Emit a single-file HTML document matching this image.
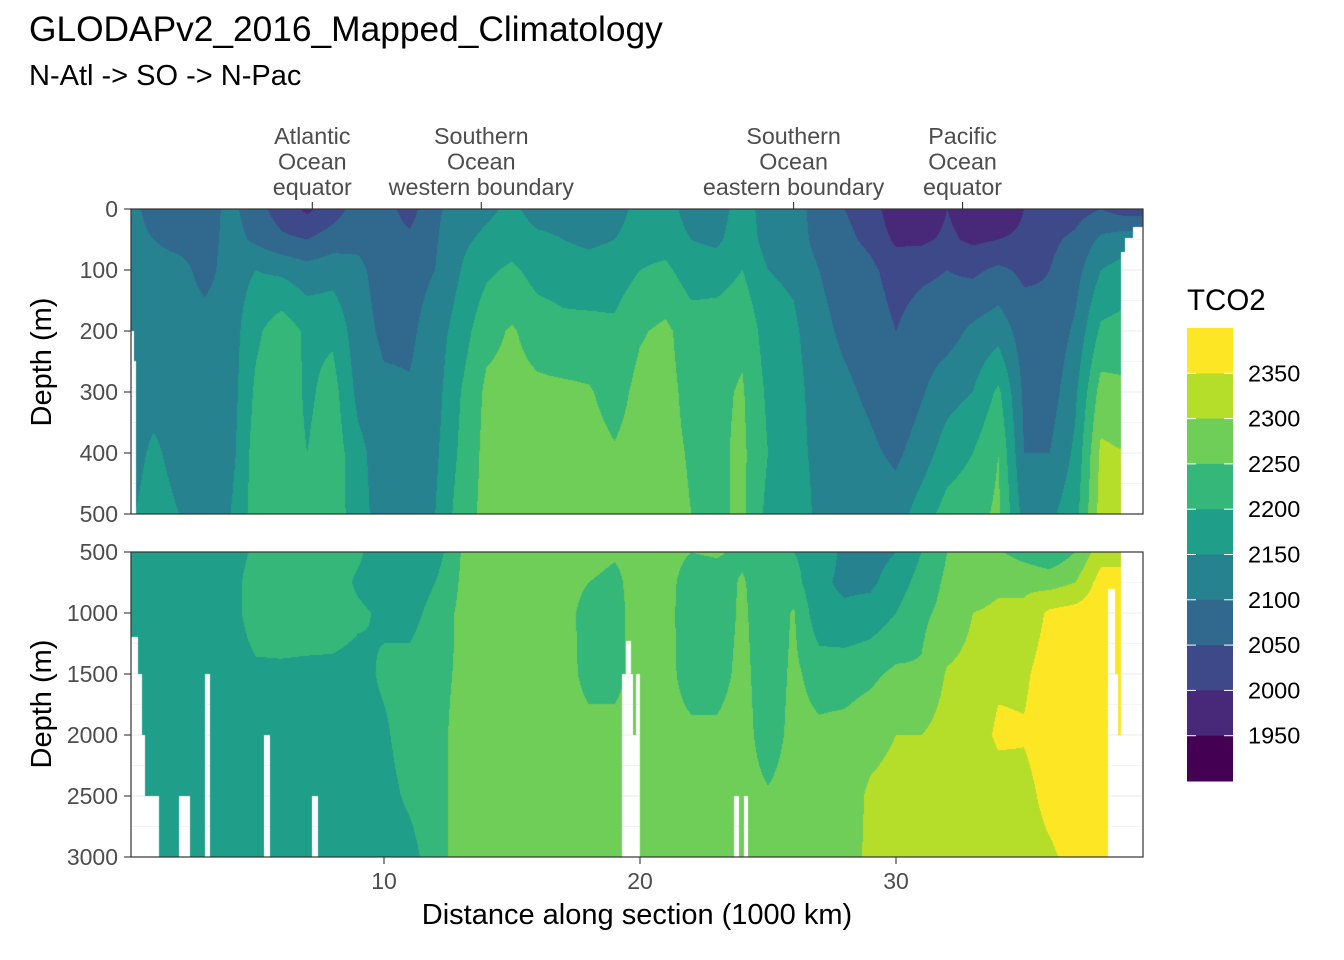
<!DOCTYPE html>
<html><head><meta charset="utf-8">
<style>
body{margin:0;background:#fff;width:1344px;height:960px;overflow:hidden;font-family:"Liberation Sans",sans-serif;position:relative}
canvas{position:absolute}
svg{position:absolute;left:0;top:0}
</style></head>
<body>
<svg id="bg" width="1344" height="960"></svg>
<canvas id="topc" width="1012" height="305" style="left:131px;top:209px"></canvas>
<canvas id="botc" width="1012" height="305" style="left:131px;top:552px"></canvas>
<svg id="fg" width="1344" height="960"></svg>
<script>
const distances=[0,1,2,3,4,5,6,7,8,9,10,11,12,13,14,15,16,17,18,19,20,21,22,23,24,25,26,27,28,29,30,31,32,33,34,35,36,37,38,39];
const topDepths=[0,50,100,200,300,400,500];
const bottomDepths=[500,750,1000,1500,2000,2500,3000];
const topTCO2=[
[2125,2125,2125,2125,2125,2125,2140],[2075,2100,2125,2125,2130,2160,2175],[2075,2080,2120,2125,2125,2130,2150],[2075,2075,2080,2125,2125,2125,2125],
[2115,2120,2125,2125,2125,2130,2150],[2070,2090,2150,2190,2210,2225,2225],[2025,2060,2140,2230,2240,2230,2230],[1990,2050,2120,2190,2190,2200,2225],
[2025,2075,2130,2190,2220,2230,2230],[2075,2090,2110,2120,2135,2165,2170],[2070,2075,2080,2090,2110,2120,2125],[2030,2060,2080,2090,2105,2125,2125],
[2090,2095,2100,2125,2130,2140,2150],[2125,2140,2150,2175,2200,2210,2225],[2140,2160,2190,2235,2260,2265,2265],[2160,2175,2210,2255,2265,2270,2270],
[2130,2160,2180,2230,2260,2270,2270],[2130,2150,2175,2215,2260,2270,2270],[2120,2140,2170,2215,2255,2270,2270],[2120,2150,2175,2210,2230,2255,2265],
[2175,2180,2200,2245,2265,2270,2270],[2175,2180,2210,2260,2265,2265,2270],[2125,2150,2175,2225,2235,2245,2250],[2125,2140,2175,2230,2240,2240,2240],
[2175,2180,2200,2240,2255,2260,2260],[2125,2130,2150,2175,2190,2200,2185],[2125,2130,2140,2160,2170,2175,2200],[2075,2080,2100,2115,2125,2130,2130],
[2050,2060,2075,2090,2110,2125,2130],[2030,2040,2060,2075,2090,2110,2125],[1960,1990,2030,2050,2060,2090,2125],[1960,1990,2040,2075,2095,2125,2175],
[2000,2010,2050,2080,2130,2175,2220],[1970,1990,2040,2110,2150,2200,2230],[1960,2000,2060,2130,2210,2250,2260],[2000,2010,2040,2075,2090,2100,2130],
[2025,2040,2050,2060,2075,2100,2140],[2030,2060,2080,2110,2140,2160,2180],[2050,2110,2150,2210,2270,2310,2320],[2025,2130,2170,2220,2260,2300,2320]];
const bottomTCO2=[
[2175,2175,2175,2175,2175,2175,2175],[2175,2175,2175,2175,2175,2175,2175],[2175,2175,2175,2175,2175,2175,2175],[2175,2175,2175,2175,2175,2175,2175],
[2175,2180,2180,2175,2175,2175,2175],[2210,2225,2225,2190,2180,2175,2175],[2225,2230,2230,2190,2175,2175,2175],[2225,2230,2235,2185,2175,2175,2175],
[2225,2230,2230,2185,2175,2175,2175],[2210,2190,2210,2180,2175,2175,2175],[2160,2170,2190,2210,2190,2180,2175],[2150,2165,2180,2220,2230,2210,2180],
[2175,2200,2220,2240,2240,2235,2230],[2250,2255,2260,2255,2260,2265,2270],[2270,2270,2270,2270,2270,2270,2270],[2270,2270,2270,2270,2270,2270,2270],
[2270,2270,2270,2270,2270,2270,2270],[2270,2270,2270,2270,2270,2270,2270],[2265,2250,2230,2235,2265,2270,2270],[2255,2240,2235,2235,2265,2270,2270],
[2260,2270,2270,2270,2270,2270,2270],[2265,2265,2265,2265,2265,2265,2265],[2250,2230,2225,2230,2260,2270,2270],[2255,2230,2220,2230,2260,2270,2270],
[2240,2255,2260,2265,2270,2270,2270],[2230,2220,2215,2220,2225,2255,2270],[2200,2220,2255,2260,2265,2270,2270],[2175,2160,2165,2230,2260,2270,2270],
[2140,2140,2160,2230,2265,2270,2280],[2130,2140,2170,2240,2280,2310,2310],[2150,2175,2200,2260,2300,2320,2320],[2200,2220,2240,2255,2300,2320,2320],
[2250,2260,2265,2305,2320,2320,2320],[2260,2270,2300,2315,2320,2320,2320],[2255,2290,2310,2340,2360,2320,2320],[2230,2290,2310,2340,2355,2330,2320],
[2210,2280,2360,2380,2380,2370,2340],[2250,2300,2370,2380,2380,2380,2370],[2330,2370,2380,2380,2380,2380,2380],[2330,2370,2380,2380,2380,2380,2380]];
const topMissing=[[0.1,0.23,200],[0.1,0.31,250],[38.79,39.7,70],[38.95,39.7,48],[39.27,39.7,30]];
const bottomMissing=[[0.1,0.39,1200],[0.1,0.55,1500],[0.1,0.66,2000],[0.1,1.21,2500],[1.99,2.42,2500],[3.01,3.2,1500],[5.31,5.55,2000],[7.19,7.42,2500],
[19.45,19.65,1230],[19.3,19.73,1500],[19.84,20.0,1500],[19.3,20.0,2000],[23.67,23.87,2500],[24.06,24.22,2500],
[38.28,38.55,800],[38.55,38.67,1500],[38.67,38.79,2000],[38.79,39.7,500]];
const breaks=[1950,2000,2050,2100,2150,2200,2250,2300,2350];
const binColors=["#440154","#482878","#3E4989","#31688E","#26828E","#1F9E89","#35B779","#6ECE58","#B5DE2B","#FDE725"];
const xTicks=[10,20,30];
const topTicks=[0,100,200,300,400,500];
const bottomTicks=[500,1000,1500,2000,2500,3000];
const regionLabels=[{x:7.2,t:["Atlantic","Ocean","equator"]},{x:13.8,t:["Southern","Ocean","western boundary"]},{x:26.0,t:["Southern","Ocean","eastern boundary"]},{x:32.6,t:["Pacific","Ocean","equator"]}];

const X=v=>128+25.6*v;
const Ytop=d=>209+d*0.61;
const Ybot=d=>552+(d-500)*0.122;
const NS="http://www.w3.org/2000/svg";
function el(p,tag,attrs,text){const e=document.createElementNS(NS,tag);for(const k in attrs)e.setAttribute(k,attrs[k]);if(text!==undefined)e.textContent=text;p.appendChild(e);return e;}
function rgb(h){return[parseInt(h.slice(1,3),16),parseInt(h.slice(3,5),16),parseInt(h.slice(5,7),16)];}
const cols=binColors.map(rgb);
function bin(v){let i=0;while(i<breaks.length&&v>=breaks[i])i++;return i;}
function interp(arr,depths,xv,d){
  let xi=Math.max(0,Math.min(distances.length-2,Math.floor(xv)));let fx=Math.max(0,Math.min(1,(xv-distances[xi])/(distances[xi+1]-distances[xi])));
  let di=0;while(di<depths.length-2&&d>depths[di+1])di++;let fd=Math.max(0,Math.min(1,(d-depths[di])/(depths[di+1]-depths[di])));
  const a=arr[xi][di],b=arr[xi+1][di],c=arr[xi][di+1],e=arr[xi+1][di+1];
  return (a*(1-fx)+b*fx)*(1-fd)+(c*(1-fx)+e*fx)*fd;
}
function render(id,arr,depths,missing,inv){
  const c=document.getElementById(id),ctx=c.getContext('2d'),img=ctx.createImageData(c.width,c.height);
  for(let px=0;px<c.width;px++){const xv=(px+131.5-128)/25.6;
    for(let py=0;py<c.height;py++){const d=inv(py+0.5);let miss=false;
      for(const m of missing){if(xv>=m[0]&&xv<m[1]&&d>=m[2]){miss=true;break;}}
      const o=(py*c.width+px)*4;if(miss){img.data[o+3]=0;continue;}
      const col=cols[bin(interp(arr,depths,xv,d))];img.data[o]=col[0];img.data[o+1]=col[1];img.data[o+2]=col[2];img.data[o+3]=255;}}
  ctx.putImageData(img,0,0);
}
render('topc',topTCO2,topDepths,topMissing,py=>py/0.61);
render('botc',bottomTCO2,bottomDepths,bottomMissing,py=>500+py/0.122);

const bg=document.getElementById('bg');
[[209,514,topTicks,Ytop,50],[552,857,bottomTicks,Ybot,250]].forEach(([y0,y1,ticks,Yf,step])=>{
  for(let d=ticks[0];d<=ticks[ticks.length-1];d+=step){const g=el(bg,'line',{x1:131,x2:1143,y1:Yf(d),y2:Yf(d),stroke:'#EBEBEB','stroke-width':d%(step*2)===0?1.1:0.55});
    
    }
  for(let v=5;v<=35;v+=5){const g=el(bg,'line',{x1:X(v),x2:X(v),y1:y0,y2:y1,stroke:'#EBEBEB','stroke-width':v%10===0?1.1:0.55});
    
    }
});
const fg=document.getElementById('fg');
const t1=el(fg,'text',{x:29,y:41,'font-size':35.3,fill:'#000'},'GLODAPv2_2016_Mapped_Climatology');

const t2=el(fg,'text',{x:29,y:85,'font-size':29,fill:'#000'},'N-Atl -> SO -> N-Pac');

[[209,514],[552,857]].forEach(([y0,y1],i)=>{const r=el(fg,'rect',{x:131,y:y0,width:1012,height:y1-y0,fill:'none',stroke:'#333','stroke-width':1.2});
  });
topTicks.forEach(d=>{const y=Ytop(d);el(fg,'line',{x1:124,x2:131,y1:y,y2:y,stroke:'#333','stroke-width':1.1});
  const t=el(fg,'text',{x:118,y:y+8,'font-size':23,fill:'#4D4D4D','text-anchor':'end'},String(d));
  });
bottomTicks.forEach(d=>{const y=Ybot(d);el(fg,'line',{x1:124,x2:131,y1:y,y2:y,stroke:'#333','stroke-width':1.1});
  const t=el(fg,'text',{x:118,y:y+8,'font-size':23,fill:'#4D4D4D','text-anchor':'end'},String(d));
  });
xTicks.forEach(v=>{el(fg,'line',{x1:X(v),x2:X(v),y1:857,y2:864,stroke:'#333','stroke-width':1.1});
  const t=el(fg,'text',{x:X(v),y:889,'font-size':23,fill:'#4D4D4D','text-anchor':'middle'},String(v));
  });
regionLabels.forEach(r=>{el(fg,'line',{x1:X(r.x),x2:X(r.x),y1:202,y2:209,stroke:'#333','stroke-width':1.1});
  r.t.forEach((s,i)=>{const t=el(fg,'text',{x:X(r.x),y:144+i*25.5,'font-size':23.3,fill:'#4D4D4D','text-anchor':'middle'},s);
    });});
const xt=el(fg,'text',{x:637,y:924,'font-size':29,fill:'#000','text-anchor':'middle'},'Distance along section (1000 km)');

[362,704].forEach((cy,i)=>{const t=el(fg,'text',{x:0,y:0,'font-size':29,fill:'#000','text-anchor':'middle',transform:`translate(51,${cy}) rotate(-90)`},'Depth (m)');
  });
const lt=el(fg,'text',{x:1187,y:310,'font-size':29.5,fill:'#000'},'TCO2');

const bh=45.3;
binColors.slice().reverse().forEach((c,i)=>{const r=el(fg,'rect',{x:1187,y:328+i*bh,width:46,height:bh+0.5,fill:c});
  });
breaks.slice().reverse().forEach((b,i)=>{const y=328+(i+1)*bh;
  el(fg,'line',{x1:1187,x2:1196,y1:y,y2:y,stroke:'#fff','stroke-width':1});el(fg,'line',{x1:1224,x2:1233,y1:y,y2:y,stroke:'#fff','stroke-width':1});
  const t=el(fg,'text',{x:1248,y:y+8,'font-size':23.5,fill:'#000'},String(b));
  });
</script>
</body></html>
